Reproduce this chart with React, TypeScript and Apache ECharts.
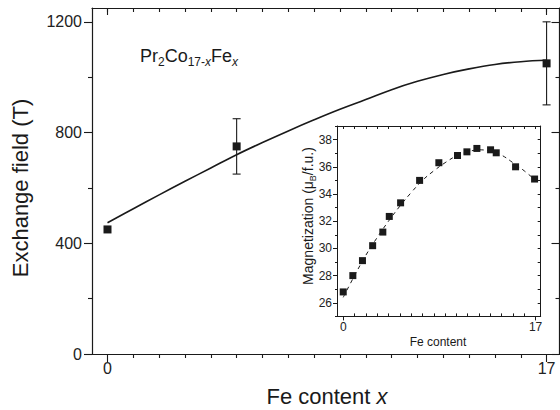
import React, { useEffect, useRef } from "react";
import * as echarts from "echarts";

// Main panel: exchange field vs Fe content
const expX = [0, 5, 17];
const expField = [450, 750, 1050];
const expErr = [0, 100, 150];

const fitX = [0, 1, 2, 3, 4, 5, 6, 7, 8, 9, 10, 11, 12, 13, 14, 15, 16, 17];
const fitField = [474, 525, 575, 624, 672, 720, 764, 806, 846, 884, 919, 955, 985, 1010, 1030, 1046, 1056, 1061];

const mainXMajor = [0, 17];
const mainXMinor = [1, 2, 3, 4, 5, 6, 7, 8, 9, 10, 11, 12, 13, 14, 15, 16];
const mainXAll = [0, 1, 2, 3, 4, 5, 6, 7, 8, 9, 10, 11, 12, 13, 14, 15, 16, 17];
const mainYMajor = [0, 400, 800, 1200];
const mainYMinor = [200, 600, 1000];

// Inset: magnetization vs Fe content
const magX = [0, 0.85, 1.7, 2.6, 3.5, 4.07, 5.07, 6.75, 8.45, 10.1, 10.93, 11.81, 13.02, 13.52, 15.23, 16.91];
const magY = [26.8, 28.0, 29.1, 30.2, 31.2, 32.35, 33.35, 35.0, 36.3, 36.83, 37.1, 37.35, 37.25, 37.03, 36.0, 35.1];
const magFitX = [0, 1, 2, 3, 4, 5, 6, 7, 8, 9, 10, 11, 12, 13, 14, 15, 16, 17];
const magFitY = [26.4, 28.0, 29.5, 30.8, 32.0, 33.1, 34.1, 35.0, 35.7, 36.3, 36.8, 37.1, 37.25, 37.15, 36.85, 36.3, 35.7, 35.0];

const insetXMajor = [0, 17];
const insetXMinor = [1, 2, 3, 4, 5, 6, 7, 8, 9, 10, 11, 12, 13, 14, 15, 16];
const insetYMajor = [26, 28, 30, 32, 34, 36, 38];
const insetYMinor = [25, 27, 29, 31, 33, 35, 37, 39];
const insetYAll = [25, 26, 27, 28, 29, 30, 31, 32, 33, 34, 35, 36, 37, 38, 39];

const FONT = "'Liberation Sans', Arial, Helvetica, sans-serif";
const INK = "#1a1a1a";

function tickAxis(extra: any) {
  return {
    type: "value",
    splitLine: { show: false },
    axisLine: { show: false, onZero: false, lineStyle: { color: INK, width: 1.2 } },
    axisTick: { show: false },
    axisLabel: { show: false },
    ...extra,
  };
}

const plain = (v: number) => String(v);

export default function App() {
  const ref = useRef<HTMLDivElement>(null);
  useEffect(() => {
    if (!ref.current) return;
    const chart = echarts.init(ref.current, undefined, { renderer: "svg" });

    const mainRange = { gridIndex: 0, min: -0.6, max: 17.5 };
    const mainYRange = { gridIndex: 0, min: 0, max: 1250 };
    const insRange = { gridIndex: 1, min: -0.55, max: 17.45 };
    const insYRange = { gridIndex: 1, min: 25, max: 39 };

    const option: any = {
      animation: false,
      backgroundColor: "#fff",
      grid: [
        { left: 92, top: 8, width: 467.5, height: 346 },
        { left: 337, top: 126, width: 203.7, height: 190.4, show: true, backgroundColor: "#fff", borderWidth: 0 },
      ],
      xAxis: [
        tickAxis({
          ...mainRange, position: "bottom",
          axisLine: { show: true, onZero: false, lineStyle: { color: INK, width: 1.2 } },
          axisTick: { show: true, customValues: mainXMajor, length: 8, lineStyle: { color: INK, width: 1.1 } },
          axisLabel: { show: true, customValues: mainXMajor, formatter: plain, fontSize: 16, margin: 6, color: "#222", fontFamily: FONT },
        }),
        tickAxis({
          ...mainRange, position: "bottom",
          axisTick: { show: true, customValues: mainXMinor, length: 4, lineStyle: { color: INK, width: 1.1 } },
        }),
        tickAxis({
          ...mainRange, position: "top",
          axisLine: { show: true, onZero: false, lineStyle: { color: INK, width: 1.2 } },
          axisTick: { show: true, inside: true, customValues: mainXAll, length: 4, lineStyle: { color: INK, width: 1.1 } },
        }),
        tickAxis({
          ...mainRange, position: "top",
          axisTick: { show: true, inside: true, customValues: mainXMajor, length: 7, lineStyle: { color: INK, width: 1.1 } },
        }),
        tickAxis({
          ...insRange, position: "bottom",
          axisLine: { show: true, onZero: false, lineStyle: { color: INK, width: 1 } },
          axisTick: { show: true, customValues: insetXMajor, length: 4, lineStyle: { color: INK, width: 1 } },
          axisLabel: { show: true, customValues: insetXMajor, formatter: plain, fontSize: 12, margin: 5, color: "#222", fontFamily: FONT },
        }),
        tickAxis({
          ...insRange, position: "bottom",
          axisTick: { show: true, inside: true, customValues: insetXMinor, length: 3, lineStyle: { color: INK, width: 1 } },
        }),
        tickAxis({
          ...insRange, position: "top",
          axisLine: { show: true, onZero: false, lineStyle: { color: INK, width: 1 } },
          axisTick: { show: true, inside: true, customValues: mainXAll, length: 3, lineStyle: { color: INK, width: 1 } },
        }),
      ],
      yAxis: [
        tickAxis({
          ...mainYRange, position: "left",
          axisLine: { show: true, onZero: false, lineStyle: { color: INK, width: 1.2 } },
          axisTick: { show: true, customValues: mainYMajor, length: 8, lineStyle: { color: INK, width: 1.1 } },
          axisLabel: { show: true, customValues: mainYMajor, formatter: plain, fontSize: 16, margin: 10, color: "#222", fontFamily: FONT },
        }),
        tickAxis({
          ...mainYRange, position: "left",
          axisTick: { show: true, customValues: mainYMinor, length: 4, lineStyle: { color: INK, width: 1.1 } },
        }),
        tickAxis({
          ...mainYRange, position: "right",
          axisLine: { show: true, onZero: false, lineStyle: { color: INK, width: 1.2 } },
          axisTick: { show: true, inside: true, customValues: mainYMajor, length: 8, lineStyle: { color: INK, width: 1.1 } },
        }),
        tickAxis({
          ...mainYRange, position: "right",
          axisTick: { show: true, inside: true, customValues: mainYMinor, length: 4, lineStyle: { color: INK, width: 1.1 } },
        }),
        tickAxis({
          ...insYRange, position: "left",
          axisLine: { show: true, onZero: false, lineStyle: { color: INK, width: 1 } },
          axisTick: { show: true, customValues: insetYMajor, length: 4, lineStyle: { color: INK, width: 1 } },
          axisLabel: { show: true, customValues: insetYMajor, formatter: plain, fontSize: 12, margin: 5, color: "#222", fontFamily: FONT },
        }),
        tickAxis({
          ...insYRange, position: "left",
          axisTick: { show: true, customValues: insetYMinor, length: 2, lineStyle: { color: INK, width: 1 } },
        }),
        tickAxis({
          ...insYRange, position: "right",
          axisLine: { show: true, onZero: false, lineStyle: { color: INK, width: 1 } },
          axisTick: { show: true, inside: true, customValues: insetYAll, length: 3, lineStyle: { color: INK, width: 1 } },
        }),
      ],
      series: [
        {
          type: "line",
          xAxisIndex: 0, yAxisIndex: 0,
          data: fitX.map((x, i) => [x, fitField[i]]),
          smooth: 0.4, showSymbol: false, symbol: "none",
          lineStyle: { color: INK, width: 1.6 },
          z: 2,
        },
        {
          type: "custom",
          xAxisIndex: 0, yAxisIndex: 0,
          data: expX.map((x, i) => [x, expField[i], expErr[i]]),
          renderItem: (params: any, api: any) => {
            const x = api.value(0);
            const y = api.value(1);
            const e = api.value(2);
            if (!e) return { type: "group", children: [] };
            const lo = api.coord([x, y - e]);
            const hi = api.coord([x, y + e]);
            const st = { stroke: INK, lineWidth: 1.1 };
            return {
              type: "group",
              children: [
                { type: "line", shape: { x1: lo[0], y1: lo[1], x2: hi[0], y2: hi[1] }, style: st },
                { type: "line", shape: { x1: lo[0] - 4, y1: lo[1], x2: lo[0] + 4, y2: lo[1] }, style: st },
                { type: "line", shape: { x1: hi[0] - 4, y1: hi[1], x2: hi[0] + 4, y2: hi[1] }, style: st },
              ],
            };
          },
          z: 3,
        },
        {
          type: "scatter",
          xAxisIndex: 0, yAxisIndex: 0,
          data: expX.map((x, i) => [x, expField[i]]),
          symbol: "rect", symbolSize: 8,
          itemStyle: { color: INK, opacity: 1 },
          z: 4,
        },
        {
          type: "line",
          xAxisIndex: 4, yAxisIndex: 4,
          data: magFitX.map((x, i) => [x, magFitY[i]]),
          smooth: 0.4, showSymbol: false, symbol: "none",
          lineStyle: { color: INK, width: 1, type: [4, 4] },
          z: 5,
        },
        {
          type: "scatter",
          xAxisIndex: 4, yAxisIndex: 4,
          data: magX.map((x, i) => [x, magY[i]]),
          symbol: "rect", symbolSize: 7,
          itemStyle: { color: INK, opacity: 1 },
          z: 6,
        },
      ],
      graphic: [
        {
          type: "text", x: 20, y: 188, rotation: Math.PI / 2,
          style: { text: "Exchange field (T)", font: `22px ${FONT}`, fill: INK, align: "center", verticalAlign: "middle" },
        },
        {
          type: "text", x: 327, y: 396,
          style: {
            text: "{a|Fe content }{i|x}",
            align: "center", verticalAlign: "middle", fill: INK,
            rich: {
              a: { fontSize: 22, fontFamily: FONT, lineHeight: 24, verticalAlign: "middle", fill: INK },
              i: { fontSize: 22, fontFamily: FONT, lineHeight: 24, fontStyle: "italic", verticalAlign: "middle", fill: INK },
            },
          },
        },
        {
          type: "text", x: 140, y: 44,
          style: {
            text: "{a|Pr}{s|2}{a|Co}{s|17-}{si|x}{a|Fe}{si|x}",
            align: "left", verticalAlign: "top", fill: INK,
            rich: {
              a: { fontSize: 18, fontFamily: FONT, lineHeight: 24, verticalAlign: "middle", fill: INK },
              s: { fontSize: 12, fontFamily: FONT, lineHeight: 6, verticalAlign: "bottom", fill: INK },
              si: { fontSize: 12, fontFamily: FONT, fontStyle: "italic", lineHeight: 6, verticalAlign: "bottom", fill: INK },
            },
          },
        },
        {
          type: "text", x: 308, y: 216, rotation: Math.PI / 2,
          style: {
            text: "{a|Magnetization (\u03bc}{s|B}{a|/f.u.)}",
            align: "center", verticalAlign: "middle", fill: INK,
            rich: {
              a: { fontSize: 14, fontFamily: FONT, lineHeight: 18, verticalAlign: "middle", fill: INK },
              s: { fontSize: 9, fontFamily: FONT, lineHeight: 6, verticalAlign: "bottom", fill: INK },
            },
          },
        },
        {
          type: "text", x: 438, y: 342,
          style: { text: "Fe content", font: `12px ${FONT}`, fill: INK, align: "center", verticalAlign: "middle" },
        },
      ],
    };
    chart.setOption(option);
    return () => chart.dispose();
  }, []);
  return <div ref={ref} style={{ position: "absolute", left: 0, top: 0, width: 560, height: 410 }} />;
}
